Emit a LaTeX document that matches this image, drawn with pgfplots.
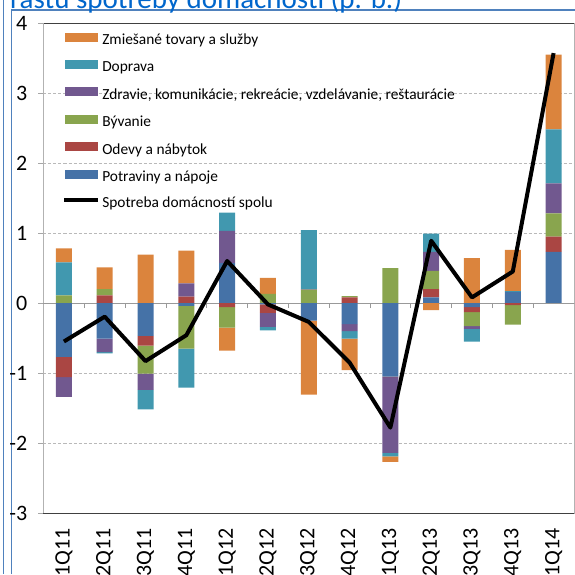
\documentclass[border=0pt]{standalone}
\usepackage{pgfplots}
\pgfplotsset{compat=1.18}
\usepackage{pgfplotstable}
\usepackage{fontspec}
\setmainfont{Carlito}

\definecolor{cP}{RGB}{69,114,167}
\definecolor{cO}{RGB}{170,70,67}
\definecolor{cB}{RGB}{137,165,78}
\definecolor{cZ}{RGB}{113,88,143}
\definecolor{cD}{RGB}{65,152,175}
\definecolor{cM}{RGB}{219,132,61}
\definecolor{frameblue}{RGB}{79,129,189}
\definecolor{titleblue}{RGB}{0,102,204}

\pgfplotstableread{
x P O B Z D M tot
0 -0.77 -0.29 0.11 -0.28 0.47 0.20 -0.55
1 -0.51 0.11 0.09 -0.19 -0.02 0.31 -0.195
2 -0.47 -0.14 -0.40 -0.23 -0.28 0.69 -0.83
3 -0.04 0.09 -0.61 0.19 -0.56 0.47 -0.46
4 0.57 -0.06 -0.29 0.46 0.26 -0.33 0.60
5 -0.02 -0.12 0.13 -0.20 -0.05 0.23 -0.02
6 -0.25 0.00 0.19 0.01 0.84 -1.06 -0.27
7 -0.30 0.08 0.02 -0.10 -0.11 -0.45 -0.85
8 -1.05 -0.01 0.50 -1.08 -0.05 -0.08 -1.78
9 0.08 0.12 0.26 0.27 0.26 -0.10 0.89
10 -0.06 -0.07 -0.20 -0.04 -0.18 0.64 0.08
11 0.16 -0.03 -0.28 0.00 0.01 0.59 0.45
12 0.73 0.22 0.33 0.43 0.77 1.07 3.57
}\data

\pgfplotsset{common/.style={width=530.5pt, height=490pt, scale only axis,
  xmin=-0.5, xmax=12.5, ymin=-3, ymax=4,
  at={(43.5pt,-513pt)}, anchor=south west}}

\begin{document}
\begin{tikzpicture}
% frame and title
\draw[frameblue, line width=1.3pt] (3.5pt,0pt) -- (3.5pt,-574pt);
\draw[frameblue, line width=1.3pt] (11.5pt,-574pt) -- (11.5pt,-10pt) -- (575pt,-10pt);
\node[anchor=base west, text=titleblue, font=\fontsize{29}{34}\selectfont, inner sep=0pt] at (10pt,-8pt) {rastu spotreby domácností (p. b.)};

% axis 1: frame, grid, labels, positive stack
\begin{axis}[common, ybar stacked, bar width=16pt,
  ytick={-3,-2,...,4}, yticklabels={-3,-2,-1,0,1,2,3,4},
  xtick={0,1,...,12},
  xticklabels={1Q11,2Q11,3Q11,4Q11,1Q12,2Q12,3Q12,4Q12,1Q13,2Q13,3Q13,4Q13,1Q14},
  x tick style={draw=none},
  y tick style={draw=gray!70, line width=0.8pt},
  tick align=outside, major tick length=5pt,
  ymajorgrids, grid style={densely dashed, gray!55, line width=0.8pt},
  extra y ticks={0}, extra y tick labels={},
  extra y tick style={grid=major, major grid style={solid, gray!80, line width=1pt}},
  separate axis lines,
  x axis line style={gray!50!black, line width=0.8pt},
  y axis line style={gray!60, line width=0.8pt},
  tick label style={font=\fontsize{22}{26}\selectfont},
  xticklabel style={rotate=90, anchor=east, inner sep=0pt, xshift=-10pt},
  yticklabel style={anchor=east, inner sep=0pt, xshift=-11pt},
]
\addplot[fill=cP, draw=none] table[x=x, y expr={max(\thisrow{P},0)}] {\data};
\addplot[fill=cO, draw=none] table[x=x, y expr={max(\thisrow{O},0)}] {\data};
\addplot[fill=cB, draw=none] table[x=x, y expr={max(\thisrow{B},0)}] {\data};
\addplot[fill=cZ, draw=none] table[x=x, y expr={max(\thisrow{Z},0)}] {\data};
\addplot[fill=cD, draw=none] table[x=x, y expr={max(\thisrow{D},0)}] {\data};
\addplot[fill=cM, draw=none] table[x=x, y expr={max(\thisrow{M},0)}] {\data};
\end{axis}

% axis 2: negative stack, zero line ticks
\begin{axis}[common, ybar stacked, bar width=16pt,
  axis x line=middle, axis y line=none,
  xtick={0.5,1.5,...,11.5}, xticklabels={}, ytick=\empty,
  x axis line style={-, draw=gray!80, line width=1pt},
  x tick style={draw=gray!80, line width=0.8pt, yshift=-2.5pt},
  tick align=center, major tick length=5pt,
]
\addplot[fill=cP, draw=none] table[x=x, y expr={min(\thisrow{P},0)}] {\data};
\addplot[fill=cO, draw=none] table[x=x, y expr={min(\thisrow{O},0)}] {\data};
\addplot[fill=cB, draw=none] table[x=x, y expr={min(\thisrow{B},0)}] {\data};
\addplot[fill=cZ, draw=none] table[x=x, y expr={min(\thisrow{Z},0)}] {\data};
\addplot[fill=cD, draw=none] table[x=x, y expr={min(\thisrow{D},0)}] {\data};
\addplot[fill=cM, draw=none] table[x=x, y expr={min(\thisrow{M},0)}] {\data};
\end{axis}

% axis 3: total line and legend
\begin{axis}[common, hide axis,
  legend cell align=left,
  legend style={at={(0.035,0.981)}, anchor=north west, draw=none, fill=none,
    inner sep=0pt, row sep=11.4pt, column sep=2pt,
    font=\fontsize{15.4}{18}\selectfont,
    nodes={inner sep=0pt, text height=11pt, text depth=4pt}},
]
\addplot[black, line width=4pt, line join=round, mark=none, forget plot] table[x=x, y=tot] {\data};
\addlegendimage{fill=cM, draw=none, legend image code/.code={\fill (0pt,-0.5pt) rectangle (33pt,8.5pt);}}
\addlegendentry{Zmiešané tovary a služby}
\addlegendimage{fill=cD, draw=none, legend image code/.code={\fill (0pt,-0.5pt) rectangle (33pt,8.5pt);}}
\addlegendentry{Doprava}
\addlegendimage{fill=cZ, draw=none, legend image code/.code={\fill (0pt,-0.5pt) rectangle (33pt,8.5pt);}}
\addlegendentry{Zdravie, komunikácie, rekreácie, vzdelávanie, reštaurácie}
\addlegendimage{fill=cB, draw=none, legend image code/.code={\fill (0pt,-0.5pt) rectangle (33pt,8.5pt);}}
\addlegendentry{Bývanie}
\addlegendimage{fill=cO, draw=none, legend image code/.code={\fill (0pt,-0.5pt) rectangle (33pt,8.5pt);}}
\addlegendentry{Odevy a nábytok}
\addlegendimage{fill=cP, draw=none, legend image code/.code={\fill (0pt,-0.5pt) rectangle (33pt,8.5pt);}}
\addlegendentry{Potraviny a nápoje}
\addlegendimage{black, line width=4pt, legend image code/.code={\draw (-1pt,4pt) -- (33pt,4pt);}}
\addlegendentry{Spotreba domácností spolu}
\end{axis}

\pgfresetboundingbox
\useasboundingbox (0pt,0pt) rectangle (575pt,-574pt);
\end{tikzpicture}
\end{document}
